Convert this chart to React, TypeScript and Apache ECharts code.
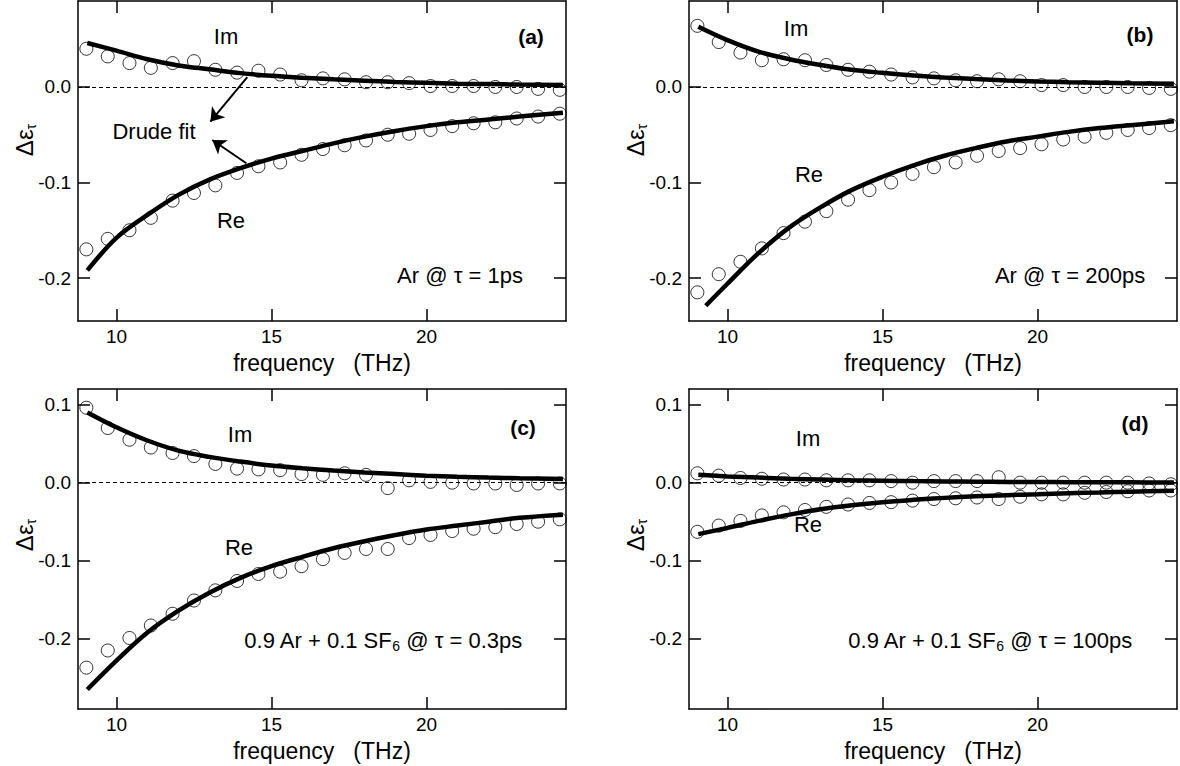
import React, { useEffect, useRef } from "react";
import * as echarts from "echarts";

// ---------- data ----------
const frequency = [9.03, 9.72, 10.42, 11.11, 11.81, 12.5, 13.19, 13.89, 14.58, 15.28, 15.97, 16.66, 17.36, 18.05, 18.75, 19.44, 20.13, 20.83, 21.52, 22.22, 22.91, 23.6, 24.3];
const fitFrequency = [9.06, 10, 11, 12, 13, 14, 15, 16, 17, 18, 19, 20, 21, 22, 23, 24.4];
const fitFrequencyBRe = [9.3, 10, 11, 12, 13, 14, 15, 16, 17, 18, 19, 20, 21, 22, 23, 24.4];

const xTicks = [10, 15, 20];
const yTicksTop = [-0.2, -0.1, 0];
const yTicksBottom = [-0.2, -0.1, 0, 0.1];

// (a) Ar @ 1ps
const aIm = [0.040, 0.032, 0.025, 0.020, 0.025, 0.027, 0.018, 0.015, 0.017, 0.013, 0.007, 0.009, 0.008, 0.005, 0.005, 0.004, 0.001, 0.001, 0.001, 0.000, 0.000, -0.002, -0.003];
const aRe = [-0.170, -0.159, -0.150, -0.137, -0.119, -0.111, -0.103, -0.090, -0.083, -0.079, -0.071, -0.065, -0.061, -0.056, -0.050, -0.049, -0.045, -0.041, -0.038, -0.037, -0.033, -0.031, -0.028];
const aImFit = [0.046, 0.038, 0.029, 0.0225, 0.0185, 0.0145, 0.0117, 0.0097, 0.008, 0.0066, 0.0053, 0.0043, 0.0035, 0.003, 0.0025, 0.002];
const aReFit = [-0.192, -0.158, -0.134, -0.113, -0.097, -0.085, -0.075, -0.067, -0.059, -0.052, -0.046, -0.041, -0.037, -0.034, -0.031, -0.027];

// (b) Ar @ 200ps
const bIm = [0.064, 0.047, 0.036, 0.028, 0.029, 0.028, 0.023, 0.018, 0.016, 0.013, 0.010, 0.009, 0.007, 0.006, 0.008, 0.006, 0.002, 0.002, 0.000, 0.000, 0.000, -0.001, -0.002];
const bRe = [-0.215, -0.196, -0.183, -0.169, -0.153, -0.141, -0.130, -0.118, -0.108, -0.100, -0.091, -0.084, -0.079, -0.072, -0.067, -0.064, -0.060, -0.055, -0.052, -0.048, -0.045, -0.043, -0.040];
const bImFit = [0.063, 0.049, 0.037, 0.029, 0.023, 0.018, 0.0148, 0.012, 0.010, 0.0083, 0.0069, 0.0058, 0.005, 0.0044, 0.0039, 0.0034];
const bReFit = [-0.229, -0.206, -0.174, -0.147, -0.126, -0.108, -0.094, -0.082, -0.072, -0.064, -0.057, -0.052, -0.047, -0.043, -0.040, -0.036];

// (c) 0.9 Ar + 0.1 SF6 @ 0.3ps
const cIm = [0.096, 0.070, 0.055, 0.045, 0.038, 0.034, 0.024, 0.018, 0.017, 0.016, 0.011, 0.010, 0.012, 0.010, -0.007, 0.003, 0.001, 0.000, -0.001, -0.001, -0.003, -0.001, -0.001];
const cRe = [-0.237, -0.215, -0.199, -0.183, -0.168, -0.151, -0.138, -0.126, -0.117, -0.114, -0.107, -0.098, -0.090, -0.085, -0.085, -0.071, -0.067, -0.062, -0.059, -0.057, -0.053, -0.050, -0.047];
const cImFit = [0.090, 0.071, 0.054, 0.041, 0.033, 0.027, 0.022, 0.0185, 0.0155, 0.013, 0.011, 0.009, 0.0076, 0.0065, 0.0056, 0.0048];
const cReFit = [-0.265, -0.228, -0.192, -0.164, -0.141, -0.122, -0.107, -0.095, -0.084, -0.075, -0.067, -0.060, -0.055, -0.050, -0.045, -0.041];

// (d) 0.9 Ar + 0.1 SF6 @ 100ps
const dIm = [0.012, 0.009, 0.006, 0.005, 0.004, 0.004, 0.003, 0.003, 0.003, 0.002, 0.000, 0.002, 0.002, 0.002, 0.007, 0.000, 0.000, 0.000, 0.000, 0.000, 0.000, -0.001, -0.002];
const dRe = [-0.063, -0.055, -0.049, -0.042, -0.038, -0.035, -0.031, -0.028, -0.026, -0.025, -0.023, -0.021, -0.020, -0.019, -0.021, -0.018, -0.015, -0.015, -0.013, -0.012, -0.011, -0.010, -0.010];
const dImFit = [0.010, 0.008, 0.0065, 0.005, 0.004, 0.003, 0.0025, 0.002, 0.0016, 0.0012, 0.001, 0.0008, 0.0006, 0.0005, 0.0004, 0.0003];
const dReFit = [-0.066, -0.058, -0.049, -0.041, -0.034, -0.029, -0.025, -0.022, -0.0195, -0.0175, -0.016, -0.0148, -0.0135, -0.0125, -0.0115, -0.0105];

// "Drude fit" arrows in data coordinates of panel (a): [fromX, fromY, toX, toY]
const drudeArrows = [
  [14.22, 0.0102, 13.03, -0.0363],
  [14.19, -0.0799, 13.09, -0.0555],
];

// ---------- layout / style ----------
const FONT = "'Liberation Sans', Arial, Helvetica, sans-serif";
const BLACK = "#000";
const X_MIN = 8.76;
const X_MAX = 24.5;

const panels = [
  { left: 78, top: 1, yMin: -0.245, yMax: 0.09, yTicks: yTicksTop, im: aIm, re: aRe, imFit: aImFit, reFit: aReFit, reFitX: fitFrequency },
  { left: 689, top: 1, yMin: -0.245, yMax: 0.09, yTicks: yTicksTop, im: bIm, re: bRe, imFit: bImFit, reFit: bReFit, reFitX: fitFrequencyBRe },
  { left: 78, top: 389, yMin: -0.29, yMax: 0.12, yTicks: yTicksBottom, im: cIm, re: cRe, imFit: cImFit, reFit: cReFit, reFitX: fitFrequency },
  { left: 689, top: 389, yMin: -0.29, yMax: 0.12, yTicks: yTicksBottom, im: dIm, re: dRe, imFit: dImFit, reFit: dReFit, reFitX: fitFrequency },
];
const PANEL_W = 488;
const PANEL_H = 320;

function pairs(xs: number[], ys: number[]) {
  return xs.map((x, i) => [x, ys[i]]);
}

function fmt(v: number) {
  if (Math.abs(v) < 1e-9) return "0.0";
  return v.toFixed(1);
}

const axisLineStyle = { color: BLACK, width: 1.5 };

function buildOption() {
  const grid: any[] = [];
  const xAxis: any[] = [];
  const yAxis: any[] = [];
  const series: any[] = [];

  panels.forEach((p, k) => {
    grid.push({ left: p.left, top: p.top, width: PANEL_W, height: PANEL_H, show: false });
    const baseX = {
      gridIndex: k,
      type: "value",
      min: X_MIN,
      max: X_MAX,
      splitLine: { show: false },
      axisLine: { show: true, onZero: false, lineStyle: axisLineStyle },
      axisTick: { show: true, inside: true, length: 12, customValues: xTicks, lineStyle: axisLineStyle },
    };
    xAxis.push({
      ...baseX,
      position: "bottom",
      axisLabel: { show: true, customValues: xTicks, fontSize: 19, color: BLACK, fontFamily: FONT, margin: 6 },
      name: "frequency   (THz)",
      nameLocation: "middle",
      nameGap: 30,
      nameTextStyle: { fontSize: 23, color: BLACK, fontFamily: FONT },
    });
    xAxis.push({ ...baseX, position: "top", axisLabel: { show: false } });

    const baseY = {
      gridIndex: k,
      type: "value",
      min: p.yMin,
      max: p.yMax,
      splitLine: { show: false },
      axisLine: { show: true, onZero: false, lineStyle: axisLineStyle },
      axisTick: { show: true, inside: true, length: 12, customValues: p.yTicks, lineStyle: axisLineStyle },
    };
    yAxis.push({
      ...baseY,
      position: "left",
      axisLabel: { show: true, customValues: p.yTicks, formatter: fmt, fontSize: 19, color: BLACK, fontFamily: FONT, margin: 7 },
    });
    yAxis.push({ ...baseY, position: "right", axisLabel: { show: false } });

    const ax = { xAxisIndex: 2 * k, yAxisIndex: 2 * k };
    const circle = {
      type: "scatter",
      ...ax,
      symbol: "circle",
      symbolSize: 13,
      silent: true,
      z: 2,
      itemStyle: { color: "rgba(0,0,0,0)", borderColor: BLACK, borderWidth: 1 },
    };
    series.push({
      ...circle,
      data: pairs(frequency, p.im),
      markLine: {
        silent: true,
        symbol: ["none", "none"],
        label: { show: false },
        lineStyle: { color: BLACK, width: 1, type: [4, 3] },
        data: [{ yAxis: 0 }],
      },
    });
    series.push({ ...circle, data: pairs(frequency, p.re) });

    const fit = {
      type: "line",
      ...ax,
      showSymbol: false,
      symbol: "none",
      smooth: 0.35,
      silent: true,
      z: 3,
      lineStyle: { color: BLACK, width: 4.5 },
    };
    series.push({ ...fit, data: pairs(fitFrequency, p.imFit) });
    const reFitSeries: any = { ...fit, data: pairs(p.reFitX, p.reFit) };
    if (k === 0) {
      reFitSeries.markLine = {
        silent: true,
        symbol: ["none", "arrow"],
        symbolSize: 13,
        label: { show: false },
        lineStyle: { color: BLACK, width: 2, type: "solid" },
        itemStyle: { color: BLACK },
        data: drudeArrows.map((a) => [{ coord: [a[0], a[1]] }, { coord: [a[2], a[3]] }]),
      };
    }
    series.push(reFitSeries);
  });

  const txt = (x: number, y: number, text: string, size = 22, weight = "normal") => ({
    type: "text",
    x,
    y,
    silent: true,
    style: { text, fontSize: size, fontWeight: weight, fontFamily: FONT, fill: BLACK, align: "center", verticalAlign: "middle" },
  });

  const richMain = { fontSize: 22, fontFamily: FONT, fill: BLACK, color: BLACK, lineHeight: 26, verticalAlign: "middle" };
  const richSub = { fontSize: 14, fontFamily: FONT, fill: BLACK, color: BLACK, lineHeight: 12, verticalAlign: "bottom" };
  const subText = (x: number, y: number, text: string) => ({
    type: "text",
    x,
    y,
    silent: true,
    style: { text, rich: { n: richMain, s: richSub }, align: "center", verticalAlign: "middle", fontFamily: FONT, fill: BLACK },
  });

  const yTitle = (x: number, y: number) => ({
    type: "text",
    x,
    y,
    rotation: Math.PI / 2,
    silent: true,
    style: {
      text: "{a|Δε}{b|τ}",
      rich: {
        a: { fontSize: 24, fontFamily: FONT, fill: BLACK, color: BLACK, lineHeight: 28, verticalAlign: "middle" },
        b: { fontSize: 14, fontFamily: FONT, fill: BLACK, color: BLACK, lineHeight: 12, verticalAlign: "bottom" },
      },
      align: "center",
      verticalAlign: "middle",
      fontFamily: FONT,
      fill: BLACK,
    },
  });

  const graphic = [
    // panel (a)
    txt(226, 36, "Im"),
    txt(231, 220, "Re"),
    txt(531, 36, "(a)", 21, "bold"),
    txt(460, 275, "Ar @ τ = 1ps"),
    txt(154, 131, "Drude fit"),
    yTitle(24, 140),
    // panel (b)
    txt(796, 28, "Im"),
    txt(809, 174, "Re"),
    txt(1140, 34, "(b)", 21, "bold"),
    txt(1070, 275, "Ar @ τ = 200ps"),
    yTitle(635, 140),
    // panel (c)
    txt(240, 434, "Im"),
    txt(239, 547, "Re"),
    txt(523, 427, "(c)", 21, "bold"),
    subText(383, 640, "{n|0.9 Ar + 0.1 SF}{s|6}{n| @ τ = 0.3ps}"),
    yTitle(24, 535),
    // panel (d)
    txt(808, 438, "Im"),
    txt(808, 524, "Re"),
    txt(1135, 423, "(d)", 21, "bold"),
    subText(990, 640, "{n|0.9 Ar + 0.1 SF}{s|6}{n| @ τ = 100ps}"),
    yTitle(635, 535),
  ];

  return {
    animation: false,
    backgroundColor: "#fff",
    textStyle: { fontFamily: FONT },
    grid,
    xAxis,
    yAxis,
    series,
    graphic,
  };
}

export default function App() {
  const ref = useRef<HTMLDivElement>(null);
  useEffect(() => {
    if (!ref.current) return;
    const chart = echarts.init(ref.current, undefined, { renderer: "svg" });
    chart.setOption(buildOption() as any);
    return () => chart.dispose();
  }, []);
  return (
    <div
      ref={ref}
      style={{ position: "absolute", left: 0, top: 0, width: 1180, height: 766, background: "#fff" }}
    />
  );
}
